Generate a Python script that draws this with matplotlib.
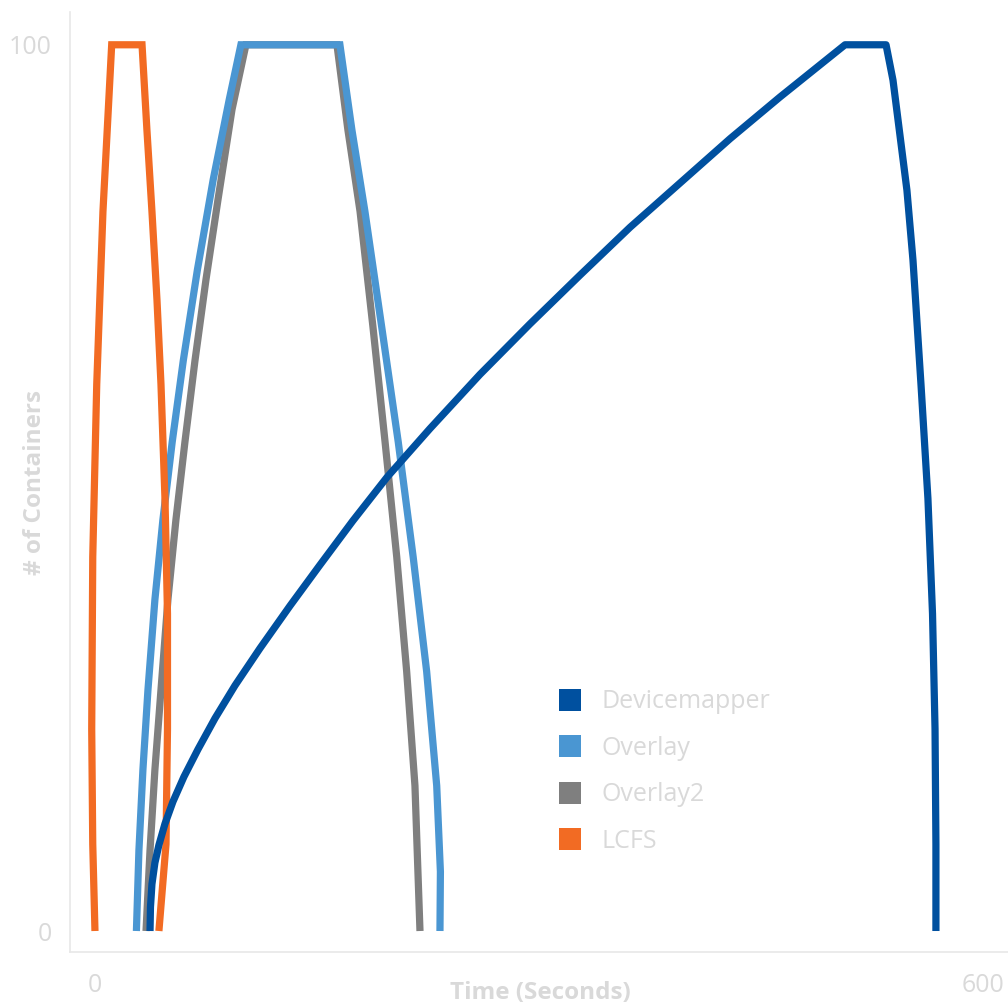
import matplotlib
matplotlib.use("Agg")
import matplotlib.pyplot as plt
from matplotlib.lines import Line2D

# Containers running over time for each storage driver
series_names = ["Devicemapper", "Overlay", "Overlay2", "LCFS"]
series_colors = ["#00509f", "#4a96d2", "#7f7f7f", "#f26b23"]

lcfs_t = [0, -1.5, -2.2, -1.5, 1.2, 5.4, 11.3, 31.8, 35.1, 38.5, 41.9, 44.6, 47.3, 49.0, 49.0, 48.0, 43.2]
lcfs_n = [0, 9.8, 22.8, 42.2, 61.7, 81.2, 100, 100, 90.4, 81.2, 71.2, 61.7, 48.8, 35.8, 22.8, 9.8, 0]

overlay_t = [28.0, 29.7, 32.4, 35.8, 40.5, 45.9, 52.2, 59.7, 69.2, 79.9, 90.7, 98.6,
             165.5, 173.6, 182.4, 193.7, 204.9, 215.0, 224.1, 230.9, 233.4, 233.1]
overlay_n = [0, 9.1, 18.2, 27.2, 37.4, 46.4, 55.2, 64.4, 74.6, 84.8, 93.8, 100,
             100, 90.4, 81.2, 68.2, 55.2, 42.2, 29.3, 16.4, 6.7, 0]

overlay2_t = [34.5, 37.2, 40.5, 44.6, 49.3, 54.7, 60.8, 67.6, 75.0, 83.1, 92.6, 102.0,
              163.5, 170.9, 179.1, 187.8, 196.0, 203.9, 210.6, 216.2, 219.6]
overlay2_n = [0, 9.1, 18.2, 27.2, 37.4, 46.4, 55.2, 64.4, 73.5, 82.5, 92.7, 100,
              100, 90.4, 81.2, 68.2, 55.2, 42.2, 29.3, 16.4, 0]

devmapper_t = [37.2, 37.5, 38.5, 40.5, 43.2, 47.3, 52.7, 60.1, 69.6, 81.1, 94.6, 111.5,
               131.8, 152.0, 174.3, 197.3, 226.4, 260.1, 293.9, 327.7, 361.5, 395.3,
               429.1, 462.8, 506.8,
               534.5, 539.2, 543.9, 548.6, 552.7, 558.1, 562.8, 565.9, 567.6, 568.2, 568.2]
devmapper_n = [0, 2.7, 5.3, 7.7, 9.7, 12.1, 14.6, 17.4, 20.5, 24.0, 27.7, 31.9,
               36.7, 41.3, 46.3, 51.2, 56.7, 62.8, 68.5, 74.0, 79.4, 84.4,
               89.4, 94.1, 100,
               100, 96.0, 89.8, 83.6, 75.7, 61.7, 48.8, 35.8, 22.8, 9.8, 0]

x_ticks = [0, 600]
y_ticks = [0, 100]

text_grey = "#d9d9d9"
spine_grey = "#e8e8e8"
plt.rcParams["font.family"] = ["Open Sans", "DejaVu Sans"]

fig = plt.figure(figsize=(10.08, 10.07), dpi=100)
ax = fig.add_axes([0.0694, 0.0546, 0.9306, 0.9335])

lw = 5.2
# back to front: Overlay2, Overlay, LCFS, Devicemapper
ax.plot(overlay2_t, overlay2_n, color=series_colors[2], lw=lw, solid_joinstyle="miter", solid_capstyle="butt")
ax.plot(overlay_t, overlay_n, color=series_colors[1], lw=lw, solid_joinstyle="miter", solid_capstyle="butt")
ax.plot(lcfs_t, lcfs_n, color=series_colors[3], lw=lw, solid_joinstyle="miter", solid_capstyle="butt")
ax.plot(devmapper_t, devmapper_n, color=series_colors[0], lw=lw, solid_joinstyle="round", solid_capstyle="butt")

ax.set_xlim(-16.9, 616.9)
ax.set_ylim(-2.37, 103.7)
ax.set_xticks(x_ticks)
ax.set_yticks(y_ticks)
ax.tick_params(axis="both", length=0, labelsize=18, labelcolor=text_grey)
ax.tick_params(axis="x", pad=15)
ax.tick_params(axis="y", pad=13)

for side in ["top", "right"]:
    ax.spines[side].set_visible(False)
for side in ["left", "bottom"]:
    ax.spines[side].set_color(spine_grey)
    ax.spines[side].set_linewidth(1.2)

ax.set_xlabel("Time (Seconds)", fontsize=17.5, color=text_grey, fontweight="bold")
ax.set_ylabel("# of Containers", fontsize=17.5, color=text_grey, fontweight="bold")
ax.xaxis.set_label_coords(0.502, -0.031)
ax.yaxis.set_label_coords(-0.025, 0.5)

handles = [Line2D([], [], linestyle="none", marker="s", markersize=16.5,
                  markerfacecolor=c, markeredgewidth=0) for c in series_colors]
leg = ax.legend(handles, series_names, loc="upper left", bbox_to_anchor=(0.509, 0.29),
                frameon=False, fontsize=18, labelspacing=0.86, handletextpad=0.75,
                handlelength=1.0, borderaxespad=0)
for t in leg.get_texts():
    t.set_color(text_grey)

fig.savefig("out.png", dpi=100)
